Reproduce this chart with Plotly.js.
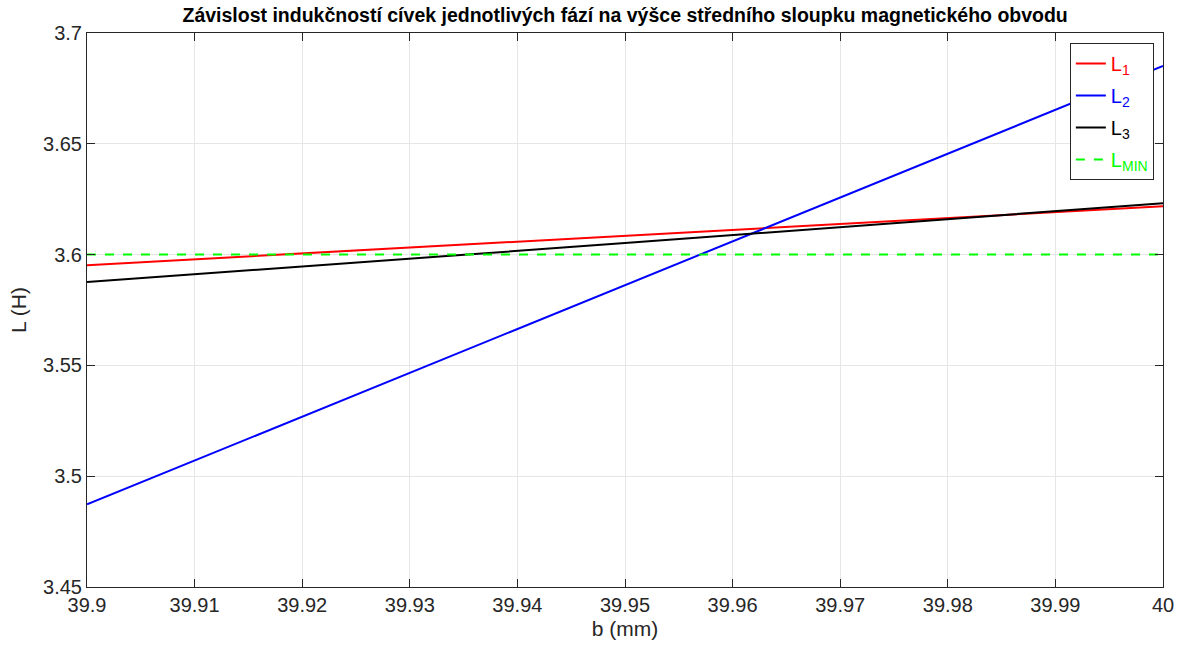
<!DOCTYPE html>
<html><head><meta charset="utf-8">
<script src="https://cdn.plot.ly/plotly-3.0.1.min.js"></script>
<style>html,body{margin:0;padding:0;background:#fff}#c{width:1184px;height:653px}</style>
</head><body><div id="c"></div>
<script>
const b = [39.9, 39.95, 40.0];
const L1 = [3.5952, 3.6084, 3.6218];
const L2 = [3.4873, 3.5863, 3.6851];
const L3 = [3.5876, 3.6052, 3.6232];
const LMIN = [3.6, 3.6, 3.6];
const xTicks = [39.9, 39.91, 39.92, 39.93, 39.94, 39.95, 39.96, 39.97, 39.98, 39.99, 40];
const xTickText = ['39.9','39.91','39.92','39.93','39.94','39.95','39.96','39.97','39.98','39.99','40'];
const yTicks = [3.45, 3.5, 3.55, 3.6, 3.65, 3.7];
const yTickText = ['3.45','3.5','3.55','3.6','3.65','3.7'];

const F = 'Liberation Sans, Arial, sans-serif';
const traces = [
  {x:b, y:L1, mode:'lines', legendgroup:'a', line:{color:'#ff0000', width:2}, name:'<span style="color:#ff0000">L<sub>1</sub></span>'},
  {x:b, y:L2, mode:'lines', legendgroup:'b', line:{color:'#0000ff', width:2}, name:'<span style="color:#0000ff">L<sub>2</sub></span>'},
  {x:b, y:L3, mode:'lines', legendgroup:'c', line:{color:'#000000', width:2}, name:'<span style="color:#000000">L<sub>3</sub></span>'},
  {x:b, y:LMIN, mode:'lines', legendgroup:'d', line:{color:'#00ff00', width:2, dash:'dash'}, name:'<span style="color:#00ff00">L<sub>MIN</sub></span>'}
];
const axisCommon = {
  showline:true, linecolor:'#262626', linewidth:1, mirror:'ticks',
  ticks:'inside', ticklen:8, tickcolor:'#262626',
  showgrid:true, gridcolor:'#e6e6e6', gridwidth:1, zeroline:false,
  tickfont:{family:F, size:20, color:'#262626'}
};
const layout = {
  width:1184, height:653,
  margin:{l:87, r:21, t:33, b:66},
  paper_bgcolor:'#fff', plot_bgcolor:'#fff',
  showlegend:true,
  title:{text:'<b>Závislost indukčností cívek jednotlivých fází na výšce středního sloupku magnetického obvodu</b>',
    font:{family:F, size:19.5, color:'#000'}, x:0.528, xanchor:'center', y:0.976, yanchor:'middle'},
  xaxis:Object.assign({}, axisCommon, {range:[39.9,40], tickvals:xTicks, ticktext:xTickText,
    title:{text:'b (mm)', font:{family:F, size:21, color:'#262626'}, standoff:6}}),
  yaxis:Object.assign({}, axisCommon, {range:[3.45,3.7], tickvals:yTicks, ticktext:yTickText,
    title:{text:'L (H)', font:{family:F, size:21, color:'#262626'}, standoff:10}}),
  legend:{x:0.9915, xanchor:'right', y:0.982, yanchor:'top', bgcolor:'#fff', bordercolor:'#262626', borderwidth:1,
    font:{family:F, size:20}, tracegroupgap:3, itemwidth:30}
};
Plotly.newPlot('c', traces, layout, {staticPlot:true});
</script></body></html>
